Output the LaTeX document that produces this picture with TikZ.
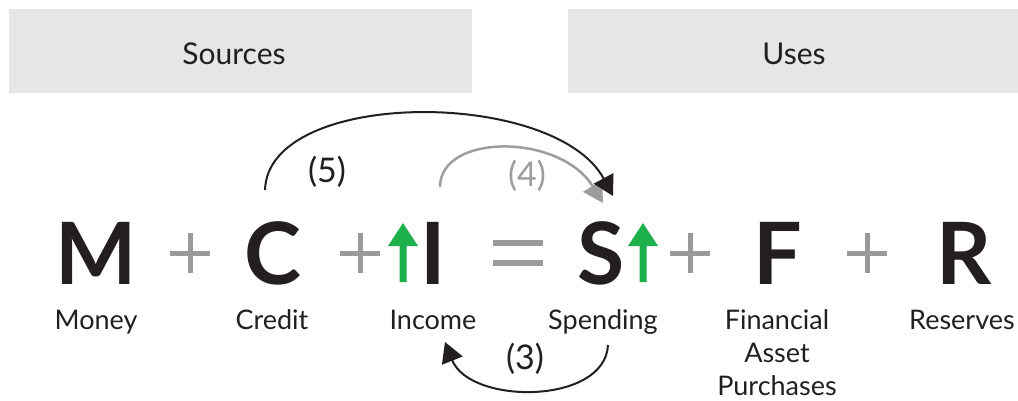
\documentclass[tikz,border=0pt]{standalone}
\usepackage{fontspec}
\setmainfont{Lato}
\usetikzlibrary{arrows.meta}
\definecolor{ink}{HTML}{231F20}
\definecolor{opgray}{HTML}{9A9A9C}
\definecolor{boxfill}{HTML}{E6E6E7}
\definecolor{upgreen}{HTML}{1DB04B}
\definecolor{arcgray}{HTML}{9D9D9F}
\tikzset{
  header/.style={fill=boxfill, draw=none},
  headtext/.style={font=\fontsize{30}{36}\selectfont, text=ink, anchor=base},
  bigletter/.style={font=\fontsize{86}{90}\selectfont\bfseries, text=ink, anchor=base, inner sep=0pt},
  label/.style={font=\fontsize{27}{33}\selectfont, text=ink, anchor=base, inner sep=0pt, align=center},
  steplabel/.style={font=\fontsize{34}{38}\selectfont, anchor=center, inner sep=0pt},
  opbar/.style={draw=opgray, line width=5pt},
  eqbar/.style={draw=opgray, line width=6pt},
  uparrow/.style={fill=upgreen, draw=none},
  flowblack/.style={draw=ink, line width=2pt, -{Triangle[length=20pt,width=22pt]}},
  flowgray/.style={draw=arcgray, line width=2.5pt, -{Triangle[length=20pt,width=22pt]}},
}
\begin{document}
\begin{tikzpicture}[x=1pt,y=-1pt]
\useasboundingbox (0,0) rectangle (1018,400);

% header boxes
\fill[header] (9,9) rectangle (472,93);
\fill[header] (568,9) rectangle (1018,93);
\node[headtext] (sources) at (234,64) {Sources};
\node[headtext] (uses) at (794,64) {Uses};

% the identity
\node[bigletter] (M) at (96,284) {M};
\node[bigletter] (C) at (273,284) {C};
\node[bigletter] (I) at (433,284) {I};
\node[bigletter] (S) at (601,284) {S};
\node[bigletter] (F) at (778,284) {F};
\node[bigletter] (R) at (964,284) {R};

% plus signs
\foreach \px/\nm in {190/p1, 360/p2, 690/p3, 867/p4}{
  \coordinate (\nm) at (\px,253);
  \draw[opbar] ([xshift=-20pt]\nm) -- ([xshift=20pt]\nm);
  \draw[opbar] ([yshift=-20pt]\nm) -- ([yshift=20pt]\nm);
}
% equals sign
\coordinate (eq) at (518,253);
\draw[eqbar] ([xshift=-25pt,yshift=-10pt]eq) -- ([xshift=25pt,yshift=-10pt]eq);
\draw[eqbar] ([xshift=-25pt,yshift=10pt]eq) -- ([xshift=25pt,yshift=10pt]eq);

% green "rising" arrows
\foreach \ax in {403, 643}{
  \fill[uparrow] (\ax-3.5,282) -- (\ax-3.5,246) -- (\ax-15,246) -- (\ax,223)
    -- (\ax+15,246) -- (\ax+3.5,246) -- (\ax+3.5,282) -- cycle;
}

% labels
\node[label] (money) at (96,329) {Money};
\node[label] (credit) at (272,329) {Credit};
\node[label] (income) at (433,329) {Income};
\node[label] (spending) at (603,329) {Spending};
\node[label, anchor=north] (fin) at (777,309) {Financial\\Asset\\Purchases};
\node[label] (reserves) at (962,329) {Reserves};

% flow arcs
\coordinate (c5s) at (265,190);
\coordinate (c5e) at (613,196);
\coordinate (c4s) at (440,187);
\coordinate (c4e) at (603,203);
\coordinate (c3s) at (608,345);
\coordinate (c3e) at (445,342);

\draw[flowgray] (c4s) .. controls (440,133) and (560,133) .. (c4e);
\draw[flowblack] (c5s) .. controls (268,88) and (555,88) .. (c5e);
\draw[flowblack] (c3s) .. controls (605,405) and (470,405) .. (c3e);

\node[steplabel, text=ink] (n5) at (327,172) {(5)};
\node[steplabel, text=arcgray] (n4) at (527,176) {(4)};
\node[steplabel, text=ink] (n3) at (525,359) {(3)};
\end{tikzpicture}
\end{document}
